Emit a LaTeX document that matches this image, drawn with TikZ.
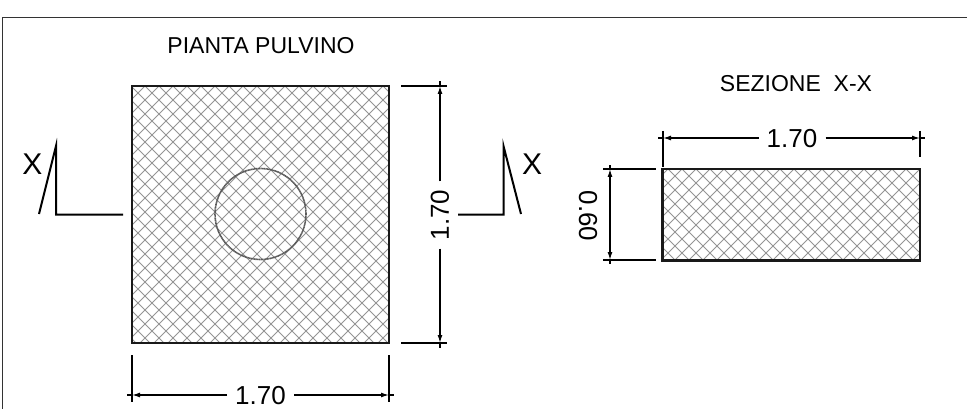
\documentclass[tikz,border=0pt]{standalone}
\usepackage{fontspec}
\setmainfont{Liberation Sans}
\usetikzlibrary{arrows.meta}
\tikzset{% 
	hatch/.style={line width=0.9pt,color=black!42}
}
\tikzset{% 
	outline/.style={line width=2.4pt,color=black!90}
}
\tikzset{% 
	dimline/.style={line width=1.3pt,color=black},
	dimtip/.style={dimline,-{Latex[length=8pt,width=5pt]}},
	dimlabel/.style={font=\fontsize{26}{26}\selectfont,inner ysep=0pt,inner xsep=8pt},
	titlelabel/.style={font=\fontsize{23}{23}\selectfont},
	marklabel/.style={font=\fontsize{30}{30}\selectfont},
	markline/.style={line width=2pt}
}

\begin{document}
\begin{tikzpicture}[x=1pt,y=-1pt]
		\useasboundingbox (0,0) rectangle (967,409);

		\coordinate (p1) at (132,86);
		\coordinate (p2) at (389,86);
		\coordinate (p3) at (389,343);
		\coordinate (p4) at (132,343);
		\coordinate (q1) at (662.5,169);
		\coordinate (q2) at (920,169);
		\coordinate (q3) at (920,260.5);
		\coordinate (q4) at (662.5,260.5);

		%Frame
		\draw [line width=1.5pt,color=black!80] (967,17.5)--(2.5,17.5)--(2.5,409);

		\node (plan_title) [titlelabel] at (261,46) {PIANTA PULVINO};
		\node (section_title) [titlelabel] at (796,84) {SEZIONE \ X-X};

		%Plan hatch
		\begin{scope}
			\clip (p1) rectangle (p3);
			\foreach \k in {-19,...,18}
				\draw [hatch] (145+\k*14,86)--(145+\k*14+257,343);
			\foreach \k in {-1,...,36}
				\draw [hatch] (145+\k*14,86)--(145+\k*14-257,343);
		\end{scope}
		\draw [outline] (p1)--(p2)--(p3)--(p4)--cycle;
		\draw [line width=1.6pt,color=black!65,dash pattern=on 1.2pt off 0.4pt] (260.5,214) circle [radius=45.5];

		%Section hatch
		\begin{scope}
			\clip (q1) rectangle (q3);
			\foreach \k in {-8,...,18}
				\draw [hatch] (668+\k*14,169)--(668+\k*14+91.5,260.5);
			\foreach \k in {0,...,25}
				\draw [hatch] (668+\k*14,169)--(668+\k*14-91.5,260.5);
		\end{scope}
		\draw [outline] (q1)--(q2)--(q3)--(q4)--cycle;

		%Bottom dimension
		\node (dim_bottom) [dimlabel] at (260.5,396) {1.70};
		\coordinate (b1) at (132,395);
		\coordinate (b2) at (389,395);
		\draw [dimline] (132,355)--(132,402);
		\draw [dimline] (389,355)--(389,402);
		\draw [dimtip] (dim_bottom.west |- b1)--(b1);
		\draw [dimtip] (dim_bottom.east |- b2)--(b2);
		\draw [dimline] (b1)--++(-5,0);
		\draw [dimline] (b2)--++(5,0);

		%Right dimension
		\node (dim_right) [dimlabel,rotate=90] at (440,215) {1.70};
		\coordinate (r1) at (440,86);
		\coordinate (r2) at (440,343);
		\draw [dimline] (401,86)--(447,86);
		\draw [dimline] (401,343)--(447,343);
		\draw [dimtip] (dim_right.west -| r2)--(r2);
		\draw [dimtip] (dim_right.east -| r1)--(r1);
		\draw [dimline] (r1)--++(0,-5);
		\draw [dimline] (r2)--++(0,5);

		%Section width
		\node (dim_top) [dimlabel] at (792,139) {1.70};
		\coordinate (t1) at (663,138);
		\coordinate (t2) at (920,138);
		\draw [dimline] (663,131)--(663,167);
		\draw [dimline] (920,131)--(920,157);
		\draw [dimtip] (dim_top.west |- t1)--(t1);
		\draw [dimtip] (dim_top.east |- t2)--(t2);
		\draw [dimline] (t1)--++(-5,0);
		\draw [dimline] (t2)--++(5,0);

		%Section height
		\node (dim_left) [dimlabel,rotate=-90] at (588,216) {0.60};
		\coordinate (s1) at (610,169);
		\coordinate (s2) at (610,260);
		\draw [dimline] (603,169)--(656,169);
		\draw [dimline] (603,260)--(656,260);
		\draw [dimtip] (610,215)--(s1);
		\draw [dimtip] (610,215)--(s2);
		\draw [dimline] (s1)--++(0,-4);
		\draw [dimline] (s2)--++(0,4);

		%Section marks
		\node (mark_left) [marklabel] at (32.5,164) {X};
		\node (mark_right) [marklabel] at (532,164) {X};
		\draw [markline] (123,214.5)--(56,214.5)--(56,146)--(39,214);
		\draw [markline] (458,214.5)--(503.5,214.5)--(503.5,146)--(521,214);

	\end{tikzpicture}
\end{document}
